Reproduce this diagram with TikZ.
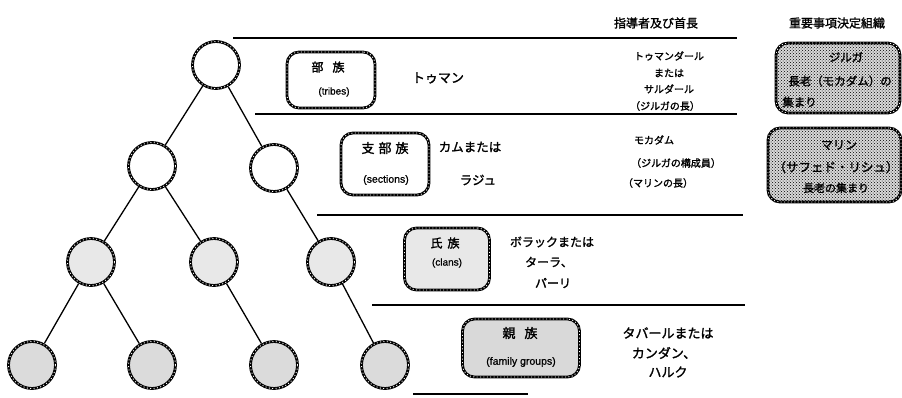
\documentclass[tikz,border=0pt]{standalone}
\usepackage{fontspec}
\newfontfamily\jp{Noto Sans CJK JP}[FakeBold=1.6]
\newfontfamily\en{Liberation Sans}[FakeBold=0.8]
\usetikzlibrary{patterns}
\begin{document}
\begin{tikzpicture}[x=1pt,y=-1pt,
  bead/.style={draw=black, line width=2.8pt,
    postaction={draw=white, line width=0.9pt, dash pattern=on 1pt off 2.4pt}},
  ring/.style={circle, bead, minimum size=47pt, inner sep=0pt},
  speck/.style={fill=gray!18},
  dense/.style={fill=gray!30, postaction={pattern=crosshatch dots, pattern color=black}},
  rbox/.style={rectangle, rounded corners=12pt, bead, inner sep=0pt, align=center},
  lbl/.style={font=\jp\fontsize{12}{14}\selectfont, inner sep=0pt},
  mid/.style={font=\jp\fontsize{10}{12}\selectfont, inner sep=0pt},
  hdr/.style={font=\jp\fontsize{12}{14}\selectfont, inner sep=0pt},
  eng/.style={font=\en\fontsize{10}{12}\selectfont, inner sep=0pt},
  edge/.style={line width=1.3pt},
  rule/.style={line width=1.1pt}
]
\useasboundingbox (0,0) rectangle (902,397);

% tree
\node[ring, fill=white] (r)  at (216,65) {};
\node[ring, fill=white] (a1) at (152,166) {};
\node[ring, fill=white] (a2) at (274,168) {};
\node[ring, speck] (b1) at (91,262) {};
\node[ring, speck] (b2) at (214,262) {};
\node[ring, speck] (b3) at (331,262) {};
\node[ring, fill=gray!28] (c1) at (32,365) {};
\node[ring, fill=gray!28] (c2) at (152,365) {};
\node[ring, fill=gray!28] (c3) at (274,365) {};
\node[ring, fill=gray!28] (c4) at (385,365) {};
\draw[edge] (r) -- (a1);
\draw[edge] (r) -- (a2);
\draw[edge] (a1) -- (b1);
\draw[edge] (a1) -- (b2);
\draw[edge] (a2) -- (b3);
\draw[edge] (b1) -- (c1);
\draw[edge] (b1) -- (c2);
\draw[edge] (b2) -- (c3);
\draw[edge] (b3) -- (c4);

% horizontal rules
\draw[rule] (233,38) -- (737,38);
\draw[rule] (255,114) -- (737,114);
\draw[rule] (317,215) -- (743,215);
\draw[rule] (372,305) -- (745,305);
\draw[rule] (413,394) -- (528,394);

% headers
\node[hdr] (h1) at (656,23) {指導者及び首長};
\node[hdr] (h2) at (837,23) {重要事項決定組織};

% level boxes
\node[rbox, fill=white, minimum width=88pt, minimum height=56pt] (t1) at (331,80) {};
\node[lbl] at (328,67) {部\hspace{9pt}族};
\node[eng] at (334,92) {(tribes)};

\node[rbox, fill=white, minimum width=88pt, minimum height=62pt] (t2) at (385,164) {};
\node[lbl, font=\jp\fontsize{13}{15}\selectfont] at (385,148) {支\hspace{4pt}部\hspace{4pt}族};
\node[eng, font=\en\fontsize{10.5}{12}\selectfont] at (386,180) {(sections)};

\node[rbox, speck, minimum width=85pt, minimum height=62pt] (t3) at (447,259) {};
\node[lbl] at (445,243) {氏\hspace{5pt}族};
\node[eng] at (447,263) {(clans)};

\node[rbox, fill=gray!30, minimum width=117pt, minimum height=58pt] (t4) at (521,348) {};
\node[lbl, font=\jp\fontsize{13}{15}\selectfont] at (520,333) {親\hspace{9pt}族};
\node[eng, font=\en\fontsize{10.5}{12}\selectfont] at (521,362) {(family groups)};

% local names
\node[lbl, font=\jp\fontsize{13}{15}\selectfont] (n1) at (438,78) {トゥマン};
\node[lbl, font=\jp\fontsize{12.5}{15}\selectfont] (n2a) at (470,147) {カムまたは};
\node[lbl, font=\jp\fontsize{12.5}{15}\selectfont] (n2b) at (478,180) {ラジュ};
\node[lbl] (n3a) at (552,242) {ボラックまたは};
\node[lbl] (n3b) at (549,262) {ターラ、};
\node[lbl] (n3c) at (553,283) {パーリ};
\node[lbl, font=\jp\fontsize{13}{15}\selectfont] (n4a) at (668,333) {タバールまたは};
\node[lbl, font=\jp\fontsize{13}{15}\selectfont] (n4b) at (664,353) {カンダン、};
\node[lbl, font=\jp\fontsize{13}{15}\selectfont] (n4c) at (668,372) {ハルク};

% leaders
\node[mid] (m1) at (669,56) {トゥマンダール};
\node[mid] (m2) at (669,73) {または};
\node[mid] (m3) at (669,89) {サルダール};
\node[mid] (m4) at (665,106) {（ジルガの長）};
\node[mid] (m5) at (654,140) {モカダム};
\node[mid] (m6) at (676,163) {（ジルガの構成員）};
\node[mid] (m7) at (658,183) {（マリンの長）};

% councils
\node[rbox, dense, minimum width=124pt, minimum height=70pt] (j) at (838,78) {};
\node[mid, font=\jp\fontsize{11.5}{13}\selectfont] at (846,57) {ジルガ};
\node[mid, font=\jp\fontsize{11.5}{13}\selectfont] at (840,81) {長老（モカダム）の};
\node[mid, font=\jp\fontsize{11.5}{13}\selectfont, anchor=west] at (782,102) {集まり};

\node[rbox, dense, minimum width=133pt, minimum height=74pt] (m) at (834.5,165) {};
\node[mid, font=\jp\fontsize{12}{14}\selectfont] at (839,145) {マリン};
\node[mid, font=\jp\fontsize{12.5}{14}\selectfont] at (836,167) {（サフェド・リシュ）};
\node[mid, font=\jp\fontsize{11}{13}\selectfont] at (836,188) {長老の集まり};
\end{tikzpicture}
\end{document}
